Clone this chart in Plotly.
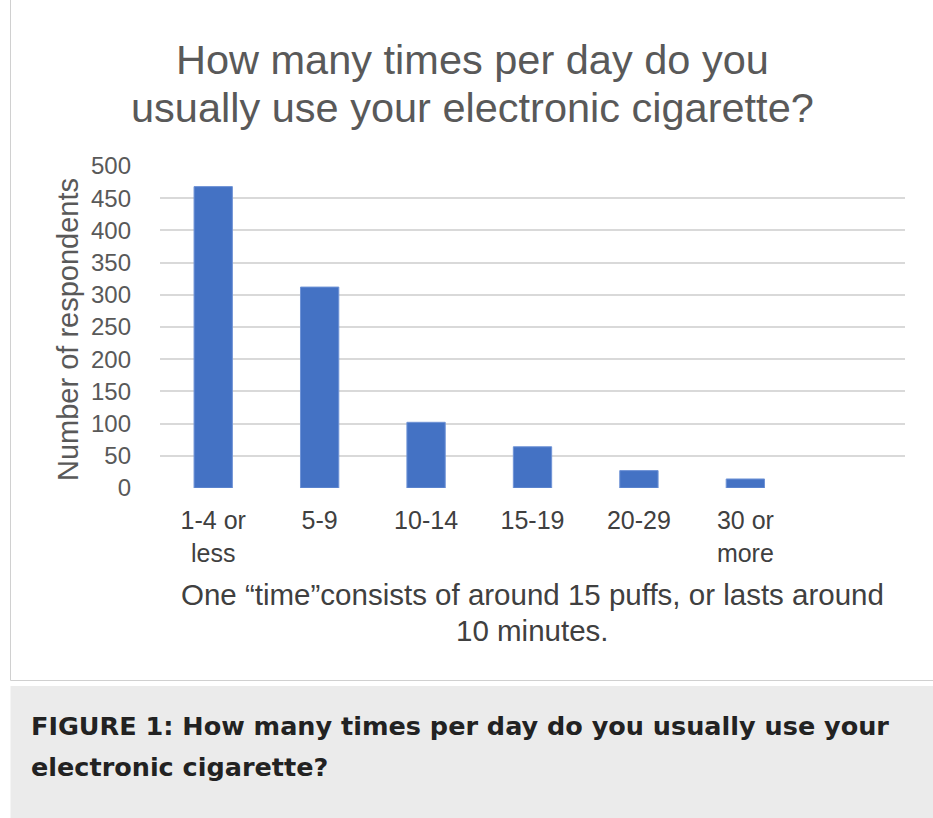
import plotly.graph_objects as go

categories = ["1-4 or<br>less", "5-9", "10-14", "15-19", "20-29", "30 or<br>more"]
respondents = [468, 312, 102, 64, 27, 14]
y_ticks = [0, 50, 100, 150, 200, 250, 300, 350, 400, 450, 500]
title_lines = ["How many times per day do you", "usually use your electronic cigarette?"]
xtitle_lines = ["One \u201ctime\u201dconsists of around 15 puffs, or lasts around", "10 minutes."]
caption_lines = ["FIGURE 1: How many times per day do you usually use your", "electronic cigarette?"]

W, H = 933, 818
L, R, T, B = 160, 905, 166, 488  # plot area pixels

def px(x):
    return (x - L) / (R - L)

def py(y):
    return (B - y) / (B - T)

xpos = list(range(len(categories)))

fig = go.Figure(go.Bar(
    x=xpos, y=respondents, width=0.36,
    marker=dict(color="#4472C4", line=dict(color="#6f93d6", width=1)),
    hoverinfo="skip",
))

font = "Liberation Sans, Arial, sans-serif"
grey = "#595959"

annotations = []
for txt, yc in zip(title_lines, [60, 107]):
    annotations.append(dict(text=txt, xref="paper", yref="paper", x=px(472.5), y=py(yc),
                            xanchor="center", yanchor="middle", showarrow=False,
                            font=dict(family=font, size=41.5, color=grey)))
annotations.append(dict(text="Number of respondents", textangle=-90,
                        xref="paper", yref="paper", x=px(68), y=py(330),
                        xanchor="center", yanchor="middle", showarrow=False,
                        font=dict(family=font, size=29, color=grey)))
for txt, yc in zip(xtitle_lines, [594, 630]):
    annotations.append(dict(text=txt, xref="paper", yref="paper", x=px(532), y=py(yc),
                            xanchor="center", yanchor="middle", showarrow=False,
                            font=dict(family=font, size=29.5, color="#404040")))
for txt, yc in zip(caption_lines, [726, 767]):
    annotations.append(dict(text="<b>" + txt + "</b>", xref="paper", yref="paper",
                            x=px(29), y=py(yc), xanchor="left", yanchor="middle",
                            align="left", showarrow=False,
                            font=dict(family="DejaVu Sans, sans-serif", size=25.5, color="#222222")))

fig.update_layout(
    width=W, height=H,
    margin=dict(l=L, r=W - R, t=T, b=H - B),
    paper_bgcolor="white", plot_bgcolor="white",
    showlegend=False,
    xaxis=dict(range=[-0.5, 6.5], tickvals=xpos, ticktext=categories,
               showgrid=False, zeroline=False, showline=False, ticks="",
               tickfont=dict(family=font, size=25, color="#404040"),
               ticklabelstandoff=15, fixedrange=True),
    yaxis=dict(range=[0, 500], tickvals=y_ticks, showgrid=True,
               gridcolor="#d9d9d9", gridwidth=1.5, zeroline=False,
               showline=False, ticks="",
               tickfont=dict(family=font, size=24, color=grey),
               ticklabelstandoff=28, fixedrange=True),
    shapes=[
        dict(type="rect", xref="paper", yref="paper",
             x0=px(10.5), x1=px(940), y0=py(-5), y1=py(680.5),
             line=dict(color="#d0d0d0", width=1), fillcolor="rgba(0,0,0,0)", layer="below"),
        dict(type="rect", xref="paper", yref="paper",
             x0=px(10.5), x1=px(940), y0=py(686), y1=py(830),
             line=dict(width=0), fillcolor="#ebebeb", layer="below"),
    ],
    annotations=annotations,
)

fig.write_html("out.html")
